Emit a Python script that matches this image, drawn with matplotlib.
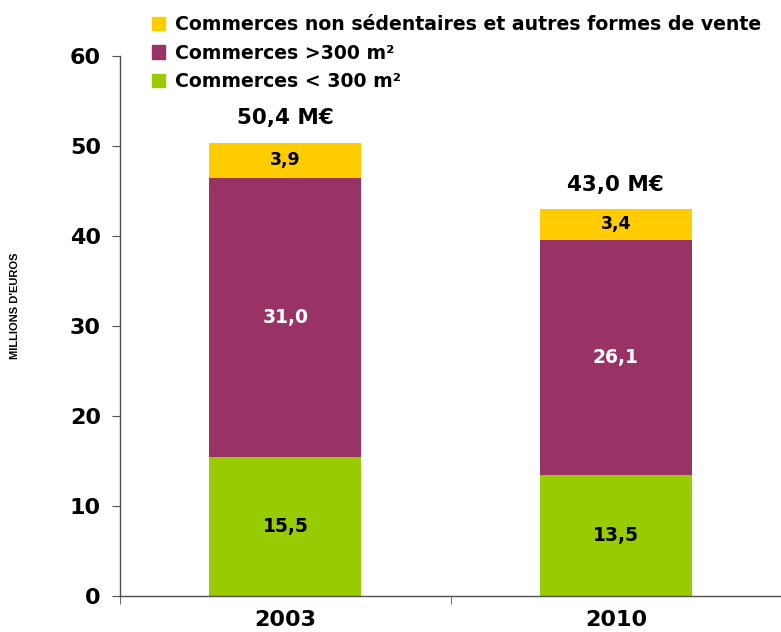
import matplotlib.pyplot as plt
from matplotlib.patches import Patch

plt.rcParams['font.family'] = ['DejaVu Sans']

# données
annees = ['2003', '2010']
petits = [15.5, 13.5]      # Commerces < 300 m²
grands = [31.0, 26.1]      # Commerces >300 m²
autres = [3.9, 3.4]        # non sédentaires et autres
totaux = ['50,4 M€', '43,0 M€']

c_petits = '#99CC00'
c_grands = '#993366'
c_autres = '#FFCC00'

fig = plt.figure(figsize=(7.81, 6.32), dpi=100)
ax = fig.add_axes([0.154, 0.057, 0.846, 0.854])

x = list(range(len(annees)))
w = 0.46
bas2 = petits
bas3 = [a + b for a, b in zip(petits, grands)]

ax.bar(x, petits, w, color=c_petits)
ax.bar(x, grands, w, bottom=bas2, color=c_grands)
ax.bar(x, autres, w, bottom=bas3, color=c_autres)

def fmt(v):
    return f'{v:.1f}'.replace('.', ',')

for i in x:
    ax.text(i, petits[i] / 2, fmt(petits[i]), ha='center', va='center',
            fontsize=13.5, fontweight='bold', color='black')
    ax.text(i, bas2[i] + grands[i] / 2, fmt(grands[i]), ha='center', va='center',
            fontsize=13.5, fontweight='bold', color='white')
    ax.text(i, bas3[i] + autres[i] / 2, fmt(autres[i]), ha='center', va='center',
            fontsize=12.5, fontweight='bold', color='black')
    ax.text(i, bas3[i] + autres[i] + 2.7, totaux[i], ha='center', va='center',
            fontsize=15.5, fontweight='bold', color='black')

ax.set_xlim(-0.5, 1.5)
ax.set_ylim(0, 60)
ax.set_yticks(range(0, 61, 10))
ax.tick_params(axis='y', direction='out', length=6, color='#505050',
               labelsize=16, pad=8)
for t in ax.get_yticklabels():
    t.set_fontweight('bold')

ax.set_xticks(x)
ax.set_xticklabels(annees, fontsize=16, fontweight='bold')
ax.set_xticks([-0.5, 0.5, 1.5], minor=True)
ax.tick_params(axis='x', which='major', length=0, pad=10)
ax.tick_params(axis='x', which='minor', direction='out', length=6, color='#505050')

for s in ['top', 'right']:
    ax.spines[s].set_visible(False)
for s in ['left', 'bottom']:
    ax.spines[s].set_color('#505050')
    ax.spines[s].set_linewidth(1)

fig.text(0.019, 0.517, "MILLIONS D'EUROS", rotation=90, ha='center', va='center',
         fontsize=8, fontweight='bold', family='Liberation Sans')

handles = [Patch(color=c_autres), Patch(color=c_grands), Patch(color=c_petits)]
noms = ['Commerces non sédentaires et autres formes de vente',
        'Commerces >300 m²', 'Commerces < 300 m²']
leg = fig.legend(handles, noms, loc='upper left', bbox_to_anchor=(0.173, 1.003),
                 frameon=False, handlelength=0.7, handleheight=0.7,
                 handletextpad=0.5, labelspacing=0.5,
                 prop={'weight': 'bold', 'size': 13.6})

fig.savefig('out.png', dpi=100)
